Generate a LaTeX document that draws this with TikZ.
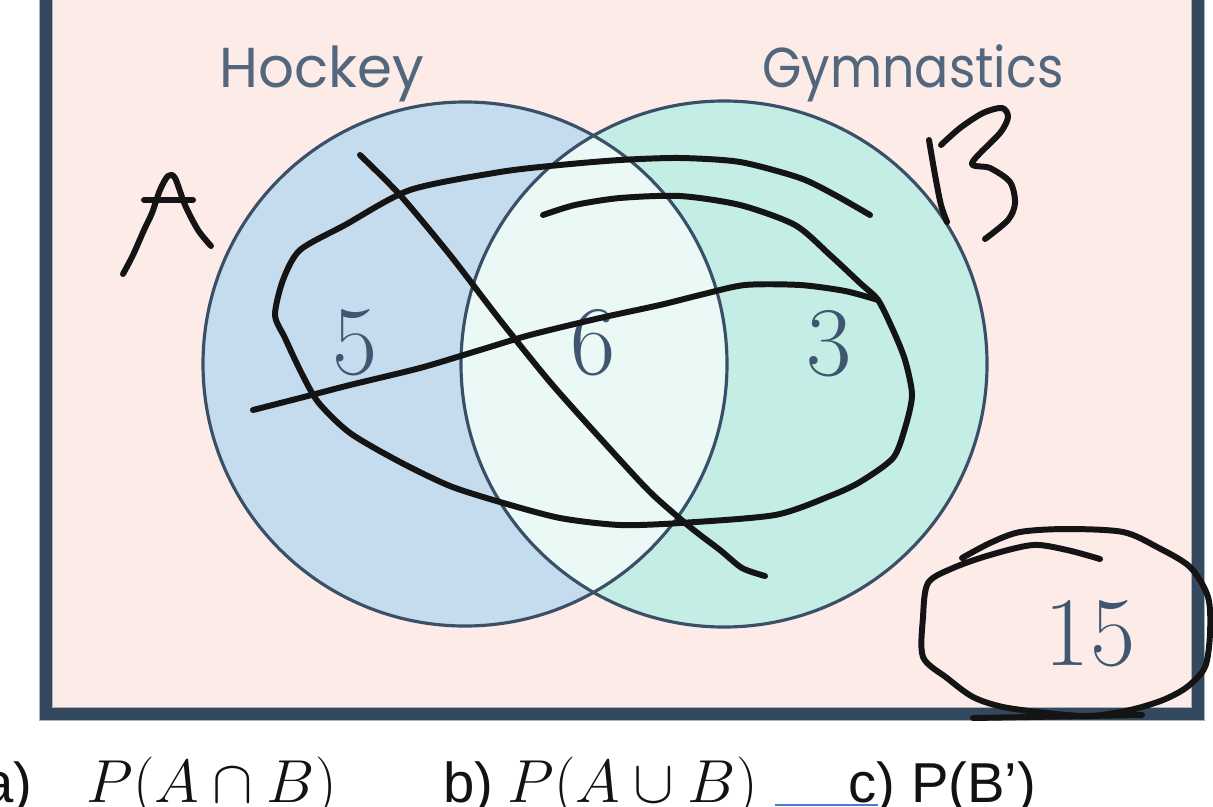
\documentclass[tikz,border=0pt]{standalone}
\usepackage{amsmath}
\usepackage{fontspec}
\newfontfamily\setfont{Poppins}
\newfontfamily\qfont{Liberation Sans}
\definecolor{bgpink}{HTML}{FDEBE7}
\definecolor{framecol}{HTML}{34495E}
\definecolor{framegray}{HTML}{A9B3BE}
\definecolor{hockeyblue}{HTML}{C5DCEF}
\definecolor{gymgreen}{HTML}{C4EEE5}
\definecolor{bothcol}{HTML}{EAF8F6}
\definecolor{edgecol}{HTML}{3A5068}
\definecolor{numcol}{HTML}{3F5670}
\definecolor{blankblue}{HTML}{4A7BD0}

\begin{document}
\begin{tikzpicture}[x=0.01cm, y=-0.01cm]
			\tikzstyle{setedge} = [draw=edgecol, line width=0.9pt]
			\tikzstyle{setname} = [text=numcol!90, font=\setfont\fontsize{16}{18}\selectfont, anchor=base, inner sep=0]
			\tikzstyle{count} = [text=numcol, font=\fontsize{28}{30}\selectfont]
			\tikzstyle{ink} = [line width=1.7pt, black!92, line cap=round, line join=round]
			\tikzstyle{qtext} = [font=\qfont\fontsize{16}{18}\selectfont, inner sep=0, text=black!93]
			\tikzstyle{qmath} = [font=\fontsize{17}{20}\selectfont, inner sep=0, text=black!93, anchor=base west]
			\useasboundingbox (0,0) rectangle (1213,806);
			% universal set
			\fill[bgpink] (46,-20) rectangle (1198,714);
			\coordinate (hc) at (465,364);
			\coordinate (gc) at (724,364);
			\fill[hockeyblue] (hc) circle (262);
			\fill[gymgreen] (gc) circle (263);
			\begin{scope}
				\clip (hc) circle (262);
				\fill[bothcol] (gc) circle (263);
			\end{scope}
			\draw[setedge] (hc) circle (262);
			\draw[setedge] (gc) circle (263);
			\draw[framegray, line width=4pt] (46,-20) rectangle (1198,714);
			\draw[framecol, line width=3.4pt] (46,-20) rectangle (1198,714);
			% labels and counts
			\node[setname] (hockey) at (322,87) {Hockey};
			\node[setname] (gym) at (913,87) {\scalebox{0.9}[1]{Gymnastics}};
			\foreach \name/\val/\px/\py in {five/5/355/343, six/6/593/343, three/3/829/344, outside/15/1090/634}
			\node[count] (\name) at (\px,\py) {\val};
			% handwriting
			\draw[ink] plot[smooth, tension=0.5] coordinates {(123,274) (133,255) (144,230) (152,213) (160,190) (168,176) (175,178) (185,205) (198,230) (211,246)};
			\draw[ink] (144,200) -- (193,200);
			\draw[ink] plot[smooth, tension=0.5] coordinates {(929,140) (935,175) (941,205) (947,222)};
			\draw[ink] plot[smooth, tension=0.5] coordinates {(941,145) (960,128) (983,113) (1002,108) (1008,117) (1000,133) (972,163) (990,168) (1010,182) (1015,203) (1008,220) (985,239)};
			\draw[ink] plot[smooth, tension=0.45] coordinates {(543,215) (575,205) (620,198) (680,196) (740,205) (795,225) (830,255) (860,283) (878,300) (893,330) (905,360) (912,395) (905,428) (893,458) (860,482) (830,496) (775,515) (680,523) (620,525) (560,518) (500,502) (450,486) (400,462) (350,433) (318,402) (300,370) (285,338) (275,315) (283,280) (300,250) (345,225) (410,190) (500,172) (560,165) (620,160) (680,158) (740,162) (800,178) (835,195) (870,215)};
			\draw[ink] plot[smooth, tension=0.45] coordinates {(360,155) (400,195) (450,255) (500,320) (550,382) (600,438) (650,492) (690,527) (720,550) (742,568) (765,576)};
			\draw[ink] plot[smooth, tension=0.45] coordinates {(253,410) (300,398) (350,385) (420,368) (480,350) (530,335) (600,318) (660,305) (700,295) (745,285) (800,285) (845,291) (878,300)};
			\draw[ink] plot[smooth, tension=0.5] coordinates {(962,558) (990,543) (1020,532) (1067,529) (1123,532) (1157,547) (1190,567) (1208,597) (1210,633) (1205,667) (1187,687) (1163,700) (1130,710) (1090,716) (1047,713) (1003,707) (973,697) (947,678) (923,657) (923,617) (928,583) (953,568) (990,555) (1033,545) (1067,550) (1100,559)};
			\draw[ink] (973,718) -- (1142,715);
			% questions
			\node[qtext, anchor=base east] (qa) at (33,802) {a)};
			\node[qmath] (pab) at (86,802) {$P(A\cap B)$};
			\node[qtext, anchor=base west] (qb) at (443,802) {b)};
			\node[qmath] (pub) at (507,802) {$P(A\cup B)$};
			\draw[blankblue, line width=0.5pt] (775,805) -- (878,805);
			\node[qtext, anchor=base west] (qc) at (848,802) {c) P(B’)};
\end{tikzpicture}
\end{document}
